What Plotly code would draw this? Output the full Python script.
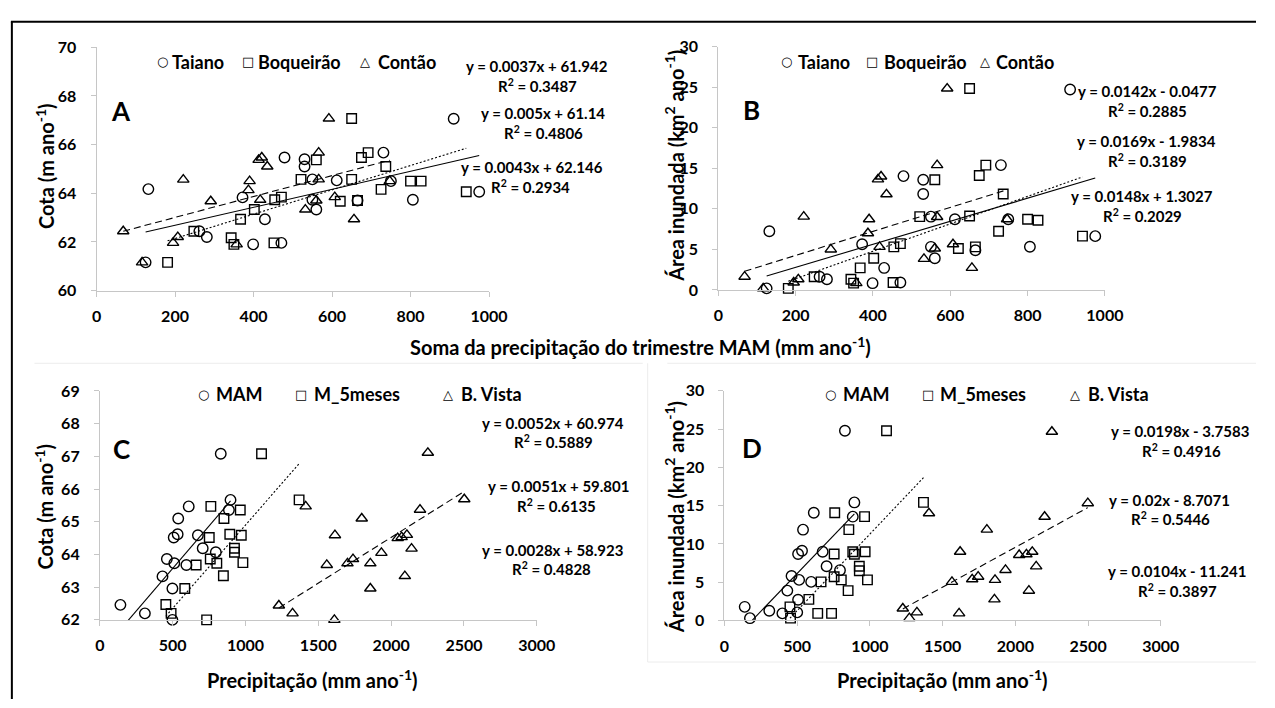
import plotly.graph_objects as go

W, H = 1275, 708

# ---------------- Panel A / B data (MAM precipitation vs cota / area) ----------------
taiano_mam = [125, 132, 262, 281, 372, 399, 429, 471, 479, 530, 530, 550, 550, 560, 612, 665, 731, 750, 806, 910, 975]
taiano_cota = [61.16, 64.17, 62.44, 62.20, 63.83, 61.90, 62.93, 61.96, 65.47, 65.40, 65.10, 64.57, 63.73, 63.33, 64.53, 63.70, 65.67, 64.50, 63.73, 67.06, 64.06]
taiano_area = [0.20, 7.24, 1.64, 1.32, 5.64, 0.84, 2.72, 0.92, 14.04, 13.60, 11.84, 9.04, 5.32, 3.92, 8.72, 4.90, 15.40, 8.72, 5.33, 24.73, 6.64]

boq_mam = [181, 248, 343, 350, 367, 402, 452, 454, 471, 521, 560, 621, 650, 650, 665, 675, 692, 725, 737, 800, 827, 942]
boq_cota = [61.16, 62.44, 62.17, 61.90, 62.93, 63.33, 61.96, 63.73, 63.84, 64.57, 65.37, 63.67, 67.07, 64.57, 63.70, 65.47, 65.67, 64.16, 65.10, 64.50, 64.50, 64.06]
boq_area = [0.20, 1.64, 1.32, 0.84, 2.72, 3.92, 0.92, 5.32, 5.72, 9.04, 13.60, 5.12, 24.84, 9.12, 5.32, 14.12, 15.40, 7.24, 11.84, 8.72, 8.60, 6.64]

contao_mam = [68, 116, 195, 207, 221, 291, 357, 387, 390, 417, 413, 421, 435, 532, 560, 566, 566, 592, 607, 656, 747]
contao_cota = [62.44, 61.16, 61.96, 62.20, 64.56, 63.67, 61.90, 64.13, 64.50, 63.73, 65.37, 65.47, 65.10, 63.33, 63.70, 65.67, 64.57, 67.07, 63.84, 62.93, 64.50]
contao_area = [1.64, 0.20, 0.92, 1.32, 9.04, 5.00, 0.84, 7.00, 8.72, 5.32, 13.64, 14.00, 11.80, 3.84, 5.12, 15.40, 9.00, 24.84, 5.64, 2.72, 8.72]

# ---------------- Panel C data (precipitation vs cota) ----------------
c_mam_x = [141, 309, 498, 498, 430, 460, 511, 594, 534, 507, 538, 610, 673, 706, 796, 830, 886, 897]
c_mam_y = [62.46, 62.20, 62.00, 62.96, 63.33, 63.86, 63.73, 63.68, 64.62, 64.52, 65.10, 65.47, 64.59, 64.19, 64.07, 67.08, 65.36, 65.67]
c_m5_x = [453, 489, 733, 583, 661, 758, 803, 848, 751, 892, 971, 924, 924, 982, 852, 762, 964, 1110, 1368]
c_m5_y = [62.47, 62.20, 62.00, 62.96, 63.68, 63.86, 63.73, 63.35, 64.52, 64.62, 64.59, 64.19, 64.07, 63.75, 65.10, 65.47, 65.36, 67.08, 65.67]
c_bv_x = [1229, 1323, 1610, 1558, 1700, 1738, 1857, 1857, 1933, 1798, 1614, 1413, 2045, 2072, 2108, 2140, 2094, 2252, 2502, 2198]
c_bv_y = [62.44, 62.20, 62.00, 63.68, 63.73, 63.86, 63.73, 62.96, 64.05, 65.10, 64.59, 65.47, 64.50, 64.53, 64.60, 64.18, 63.34, 67.11, 65.69, 65.37]

# ---------------- Panel D data (precipitation vs area) ----------------
d_mam_x = [139, 175, 308, 398, 500, 432, 461, 506, 513, 596, 506, 533, 540, 614, 675, 702, 794, 828, 882, 893]
d_mam_y = [1.78, 0.30, 1.27, 0.93, 1.06, 3.90, 5.80, 2.70, 5.30, 5.04, 8.69, 9.11, 11.86, 14.07, 8.98, 7.08, 6.57, 24.79, 13.56, 15.42]
d_m5_x = [450, 454, 580, 641, 736, 664, 754, 803, 850, 754, 882, 893, 927, 927, 983, 967, 855, 758, 963, 1114, 1368]
d_m5_y = [1.78, 0.30, 2.75, 0.93, 0.93, 5.04, 5.72, 5.30, 3.90, 8.69, 8.98, 8.64, 7.08, 6.50, 5.30, 8.98, 11.86, 14.07, 13.56, 24.79, 15.42]
d_bv_x = [1226, 1271, 1323, 1613, 1406, 1564, 1620, 1703, 1744, 1804, 1860, 1856, 1932, 2026, 2076, 2116, 2143, 2093, 2251, 2498, 2201]
d_bv_y = [1.57, 0.30, 1.06, 0.93, 14.00, 5.04, 8.98, 5.38, 5.72, 11.86, 5.30, 2.75, 6.60, 8.55, 8.64, 8.97, 7.07, 3.89, 24.65, 15.32, 13.55]

# ---------------- Trend line coefficients (slope, intercept, R2) ----------------
trend_A = [(0.0037, 61.942, 0.3487), (0.005, 61.14, 0.4806), (0.0043, 62.146, 0.2934)]
trend_B = [(0.0142, -0.0477, 0.2885), (0.0169, -1.9834, 0.3189), (0.0148, 1.3027, 0.2029)]
trend_C = [(0.0052, 60.974, 0.5889), (0.0051, 59.801, 0.6135), (0.0028, 58.923, 0.4828)]
trend_D = [(0.0198, -3.7583, 0.4916), (0.02, -8.7071, 0.5446), (0.0104, -11.241, 0.3897)]

names_top = ["Taiano", "Boqueirão", "Contão"]
names_bottom = ["MAM", "M_5meses", "B. Vista"]

FONT = "Lato, 'Open Sans', sans-serif"
SYMBOLS = ["circle-open", "square-open", "triangle-up-open"]
SYM_SIZES = [10.5, 9.5, 10]
SYM_GLYPHS = ["○", "□", "△"]
DASHES = ["solid", "2px,2px", "7px,4px"]


def fx(p):
    return p / W


def fy(p):
    return 1 - p / H


fig = go.Figure()

panels = [
    ("", [taiano_mam, boq_mam, contao_mam], [taiano_cota, boq_cota, contao_cota], trend_A, names_top),
    ("2", [taiano_mam, boq_mam, contao_mam], [taiano_area, boq_area, contao_area], trend_B, names_top),
    ("3", [c_mam_x, c_m5_x, c_bv_x], [c_mam_y, c_m5_y, c_bv_y], trend_C, names_bottom),
    ("4", [d_mam_x, d_m5_x, d_bv_x], [d_mam_y, d_m5_y, d_bv_y], trend_D, names_bottom),
]

for suf, xs, ys, trend, names in panels:
    xa, ya = "x" + suf, "y" + suf
    for i in range(3):
        fig.add_trace(go.Scatter(
            x=xs[i], y=ys[i], mode="markers", name=names[i], xaxis=xa, yaxis=ya,
            cliponaxis=False,
            marker=dict(symbol=SYMBOLS[i], size=SYM_SIZES[i], color="black",
                        line=dict(color="black", width=1.4)),
            showlegend=False))
    for i in range(3):
        m, b, r2 = trend[i]
        x0, x1 = min(xs[i]), max(xs[i])
        fig.add_trace(go.Scatter(
            x=[x0, x1], y=[m * x0 + b, m * x1 + b], mode="lines", xaxis=xa, yaxis=ya,
            line=dict(color="black", width=1.1, dash=DASHES[i]),
            hoverinfo="skip", showlegend=False))

# plot areas in pixels: (x0, x1, ytop, ybottom)
boxes = {
    "": (93.3, 493.3, 38.3, 288.3),
    "2": (727, 1121, 37.7, 287.7),
    "3": (96.7, 542, 391.5, 626.7),
    "4": (733.3, 1178, 391.3, 627.3),
}
ranges = {
    "": ([0, 1000], 200, [60, 70], 2),
    "2": ([0, 1000], 200, [0, 30], 5),
    "3": ([0, 3000], 500, [62, 69], 1),
    "4": ([0, 3000], 500, [0, 30], 5),
}

AX_COL = "#c6c6c6"
tickfont = dict(family=FONT, size=16, color="black", weight="bold")
layout = {}
for suf, (x0, x1, yt, yb) in boxes.items():
    xr, xd, yr, yd = ranges[suf]
    layout["xaxis" + suf] = dict(
        domain=[fx(x0), fx(x1)], range=xr, dtick=xd, tick0=0, anchor="y" + suf,
        showline=True, linecolor=AX_COL, linewidth=1, ticks="outside", ticklen=5,
        tickcolor=AX_COL, showgrid=False, zeroline=False, tickfont=tickfont,
        ticklabelstandoff=6, fixedrange=True)
    layout["yaxis" + suf] = dict(
        domain=[fy(yb), fy(yt)], range=yr, dtick=yd, tick0=yr[0], anchor="x" + suf,
        showline=True, linecolor=AX_COL, linewidth=1, ticks="outside", ticklen=5,
        tickcolor=AX_COL, showgrid=False, zeroline=False, tickfont=tickfont,
        ticklabelstandoff=11, fixedrange=True)

annotations = []


def text(xp, yp, s, size=15, xanchor="center", angle=0):
    annotations.append(dict(
        x=fx(xp), y=fy(yp), xref="paper", yref="paper", text=s, showarrow=False,
        xanchor=xanchor, yanchor="middle", textangle=angle,
        font=dict(family=FONT, size=size, color="black", weight="bold")))


def eq_text(m, b):
    sign = "+" if b >= 0 else "-"
    return f"y = {m}x {sign} {abs(b)}"


eq_pos = {
    "": [(542, 58, 543, 78), (548, 106, 549, 126), (537, 161, 536, 181)],
    "2": [(1164, 83, 1164, 103), (1163, 135, 1164, 155), (1159, 191, 1159, 211)],
    "3": [(559, 424, 559, 443), (564, 489, 562, 509), (558, 555, 557, 574)],
    "4": [(1198, 433, 1199, 453), (1187, 503, 1188, 523), (1194, 576, 1195, 596)],
}
trends = {"": trend_A, "2": trend_B, "3": trend_C, "4": trend_D}
for suf, pos in eq_pos.items():
    for (ex, ey, rx, ry), (m, b, r2) in zip(pos, trends[suf]):
        text(ex, ey, eq_text(m, b), size=15)
        text(rx, ry, f"R<sup>2</sup> = {r2}", size=15)

leg_pos = {
    "": (53, [(160.5, 168), (248, 256), (367, 378)], names_top),
    "2": (53, [(797, 806), (884, 894), (998.5, 1008)], names_top),
    "3": (395, [(202, 213), (302, 313), (451, 463)], names_bottom),
    "4": (395, [(841, 852), (941, 951), (1091, 1102)], names_bottom),
}
for suf, (ly, items, names) in leg_pos.items():
    for i, (sx, tx) in enumerate(items):
        annotations.append(dict(
            x=fx(sx), y=fy(ly), xref="paper", yref="paper", text=SYM_GLYPHS[i], showarrow=False,
            xanchor="center", yanchor="middle",
            font=dict(family="DejaVu Sans", size=13, color="black")))
        text(tx, ly, names[i], size=18, xanchor="left")

for (lx, ly), letter in zip([(118, 104), (761, 103), (118.5, 451), (761.5, 450)], ["A", "B", "C", "D"]):
    text(lx, ly, letter, size=26)

text(648, 345, "Soma da precipitação do trimestre MAM (mm ano<sup>-1</sup>)", size=20)
text(313, 687, "Precipitação (mm ano<sup>-1</sup>)", size=20)
text(955, 687, "Precipitação (mm ano<sup>-1</sup>)", size=20)
text(40, 160, "Cota (m ano<sup>-1</sup>)", size=20, angle=-90)
text(40, 510, "Cota (m ano<sup>-1</sup>)", size=20, angle=-90)
text(682, 160, "Área inundada (km<sup>2</sup> ano<sup>-1</sup>)", size=20, angle=-90)
text(682, 521, "Área inundada (km<sup>2</sup> ano<sup>-1</sup>)", size=20, angle=-90)

shapes = [
    dict(type="line", xref="paper", yref="paper", x0=fx(6), x1=1, y0=fy(12), y1=fy(12),
         line=dict(color="black", width=2)),
    dict(type="line", xref="paper", yref="paper", x0=fx(7), x1=fx(7), y0=fy(12), y1=0,
         line=dict(color="black", width=2)),
    dict(type="line", xref="paper", yref="paper", x0=fx(30), x1=fx(650), y0=fy(363), y1=fy(363),
         line=dict(color="#ececec", width=1)),
    dict(type="line", xref="paper", yref="paper", x0=fx(675), x1=1, y0=fy(363), y1=fy(363),
         line=dict(color="#ececec", width=1)),
    dict(type="line", xref="paper", yref="paper", x0=fx(655), x1=fx(655), y0=fy(363), y1=fy(670),
         line=dict(color="#ececec", width=1)),
    dict(type="line", xref="paper", yref="paper", x0=fx(655), x1=1, y0=fy(670), y1=fy(670),
         line=dict(color="#ececec", width=1)),
]

fig.update_layout(
    width=W, height=H, margin=dict(l=0, r=0, t=0, b=0),
    paper_bgcolor="white", plot_bgcolor="rgba(0,0,0,0)",
    showlegend=False, annotations=annotations, shapes=shapes, **layout)

fig.write_html("out.html", config={"displayModeBar": False},
               post_script="document.body.style.margin='0';document.body.style.overflow='hidden';")
